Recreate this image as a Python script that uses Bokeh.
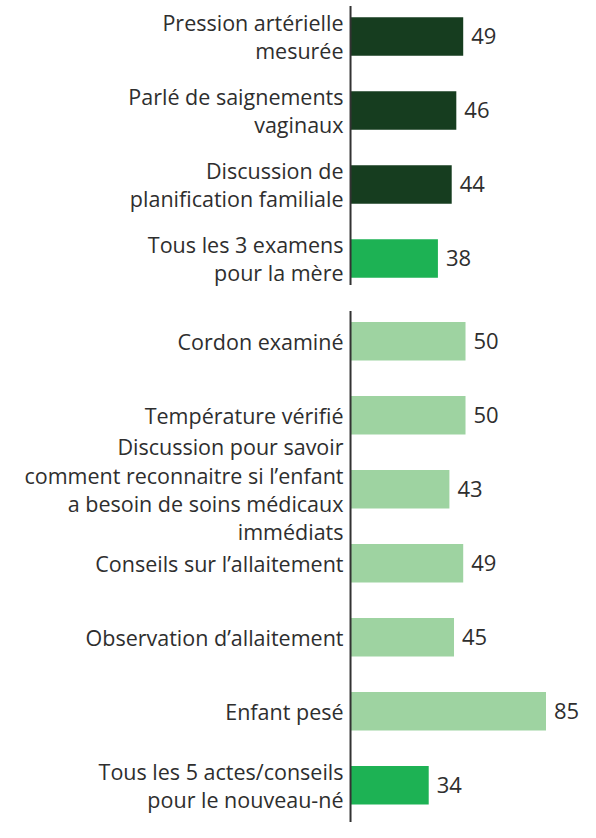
from bokeh.plotting import figure
from bokeh.models import ColumnDataSource, Range1d
from bokeh.core.properties import value
from bokeh.embed import file_html
from bokeh.resources import INLINE

# ---- data ----
labels_mere = [
    "Pression artérielle\nmesurée",
    "Parlé de saignements\nvaginaux",
    "Discussion de\nplanification familiale",
    "Tous les 3 examens\npour la mère",
]
values_mere = [49, 46, 44, 38]
kind_mere = ["item", "item", "item", "total"]

labels_nn = [
    "Cordon examiné",
    "Température vérifié",
    "Discussion pour savoir\ncomment reconnaitre si l’enfant\na besoin de soins médicaux\nimmédiats",
    "Conseils sur l’allaitement",
    "Observation d’allaitement",
    "Enfant pesé",
    "Tous les 5 actes/conseils\npour le nouveau-né",
]
values_nn = [50, 50, 43, 49, 45, 85, 34]
kind_nn = ["item", "item", "item", "item", "item", "item", "total"]

# ---- styling ----
COL = {
    ("mere", "item"): "#163d1f",
    ("mere", "total"): "#1db254",
    ("nn", "item"): "#9ed3a1",
    ("nn", "total"): "#1db254",
}
GAP = 0.12       # extra space between the two groups (in bar slots)
BAR_H = 0.52
FONT = "Open Sans"
TXT = "#2e2e2e"

ys, vals, labs, cols = [], [], [], []
for i, (l, v, k) in enumerate(zip(labels_mere, values_mere, kind_mere)):
    ys.append(i); vals.append(v); labs.append(l); cols.append(COL[("mere", k)])
n0 = len(labels_mere)
for j, (l, v, k) in enumerate(zip(labels_nn, values_nn, kind_nn)):
    ys.append(n0 + j + GAP); vals.append(v); labs.append(l); cols.append(COL[("nn", k)])

src = ColumnDataSource(dict(y=ys, v=vals, lab=labs, col=cols, vt=[str(v) for v in vals],
                            zero=[0] * len(ys)))

p = figure(width=580, height=822, output_backend="svg", toolbar_location=None,
           x_range=Range1d(-152.2, 100.0), y_range=Range1d(10.622, -0.486),
           min_border=0, outline_line_color=None)
p.axis.visible = False
p.grid.visible = False
p.background_fill_color = "white"

p.hbar(y="y", left=0, right="v", height=BAR_H, fill_color="col", line_color=None, source=src)

# category labels
p.text(x="zero", y="y", text="lab", source=src, text_align="right", text_baseline="middle",
       x_offset=-7, text_font=value(FONT), text_font_size="21.5px", text_color=TXT,
       text_line_height=0.98)
# value labels
p.text(x="v", y="y", text="vt", source=src, text_align="left", text_baseline="middle",
       x_offset=8, text_font=value(FONT), text_font_size="22px", text_color=TXT)

# group axis lines
top0 = min(ys[:n0]) - 0.41
bot0 = max(ys[:n0]) + 0.36
top1 = min(ys[n0:]) - 0.41
bot1 = max(ys[n0:]) + 1.0
p.segment(x0=[0, 0], x1=[0, 0], y0=[top0, top1], y1=[bot0, bot1],
          line_color="#333333", line_width=2)

open("out.html", "w").write(file_html(p, INLINE))
